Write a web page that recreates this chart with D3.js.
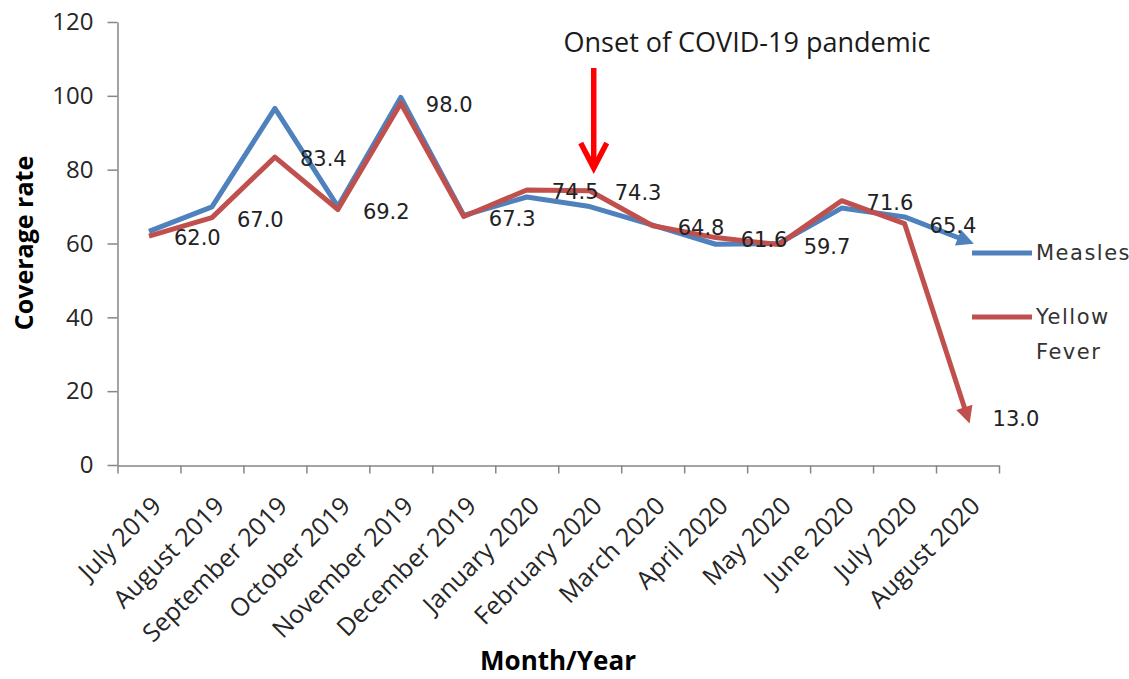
<!DOCTYPE html>
<html>
<head>
<meta charset="utf-8">
<script src="https://cdn.jsdelivr.net/npm/d3@7"></script>
<style>
  body { margin: 0; background: #fff; }
  svg { display: block; overflow: visible; }
  .axis path, .axis line { stroke: #868686; stroke-width: 1.5; }
  .axis text { font-family: "Open Sans", sans-serif; fill: #262626; }
  .dlabel { font-family: "DejaVu Sans", sans-serif; font-size: 21px; fill: #222; }
</style>
</head>
<body>
<svg width="1129" height="679"></svg>
<script>
var months = ["July 2019", "August 2019", "September 2019", "October 2019", "November 2019",
              "December 2019", "January 2020", "February 2020", "March 2020", "April 2020",
              "May 2020", "June 2020", "July 2020", "August 2020"];
var measles     = [63.3, 69.9, 96.6, 70.0, 99.6, 67.6, 72.6, 70.0, 65.0, 59.8, 60.0, 69.6, 67.2, 60.6];
var yellowFever = [62.0, 67.0, 83.4, 69.2, 98.0, 67.3, 74.5, 74.3, 64.8, 61.6, 59.7, 71.6, 65.4, 13.0];
var yTicks = [0, 20, 40, 60, 80, 100, 120];
var onsetMonth = "February 2020";

var svg = d3.select("svg");

var x = d3.scaleBand()
  .domain(months)
  .range([117.5, 999])
  .padding(0);

// boundary ticks, excel style (between categories)
var xi = d3.scaleLinear()
  .domain([0, months.length])
  .range(x.range());

var y = d3.scaleLinear()
  .domain([0, 120])
  .range([465, 22]);

var cx = function(i) { return x(months[i]) + x.bandwidth() / 2; };

// y axis
var gy = svg.append("g")
  .attr("class", "axis")
  .attr("transform", "translate(117.5,0)")
  .call(d3.axisLeft(y).tickValues(yTicks).tickSize(10).tickPadding(14).tickSizeOuter(0));
gy.selectAll("text").attr("font-size", 24);

// x axis line + ticks
svg.append("g")
  .attr("class", "axis")
  .attr("transform", "translate(0,465.5)")
  .call(d3.axisBottom(xi).tickValues(d3.range(months.length + 1)).tickSize(8).tickSizeOuter(0).tickFormat(""));

// x labels
var gx = svg.append("g")
  .attr("class", "axis")
  .attr("transform", "translate(0,465.5)")
  .call(d3.axisBottom(x).tickSize(0).tickSizeOuter(0));
gx.select(".domain").remove();
gx.selectAll("text")
  .attr("font-size", 25)
  .attr("text-anchor", "end")
  .attr("dy", null)
  .attr("y", null)
  .attr("transform", "translate(14,42) rotate(-45)");

// axis titles
svg.append("text")
  .attr("transform", "translate(33,243) rotate(-90)")
  .attr("text-anchor", "middle")
  .attr("font-family", "Open Sans, sans-serif")
  .attr("font-weight", "bold")
  .attr("font-size", 25)
  .attr("fill", "#000")
  .text("Coverage rate");

svg.append("text")
  .attr("x", 558)
  .attr("y", 670)
  .attr("text-anchor", "middle")
  .attr("font-family", "Open Sans, sans-serif")
  .attr("font-weight", "bold")
  .attr("font-size", 26)
  .attr("fill", "#000")
  .text("Month/Year");

// arrow markers for line ends
var defs = svg.append("defs");
[["arrowBlue", "#4F81BD"], ["arrowRed", "#C0504D"]].forEach(function(m) {
  defs.append("marker")
    .attr("id", m[0])
    .attr("viewBox", "0 0 10 10")
    .attr("refX", 6)
    .attr("refY", 5)
    .attr("markerWidth", 19)
    .attr("markerHeight", 17)
    .attr("markerUnits", "userSpaceOnUse")
    .attr("orient", "auto")
    .append("path")
      .attr("d", "M0,0 L10,5 L0,10 z")
      .attr("fill", m[1]);
});

var line = d3.line()
  .x(function(d, i) { return cx(i); })
  .y(function(d) { return y(d); });

svg.append("path")
  .datum(measles)
  .attr("d", line)
  .attr("fill", "none")
  .attr("stroke", "#4F81BD")
  .attr("stroke-width", 5)
  .attr("stroke-linejoin", "round")
  .attr("marker-end", "url(#arrowBlue)");

svg.append("path")
  .datum(yellowFever)
  .attr("d", line)
  .attr("fill", "none")
  .attr("stroke", "#C0504D")
  .attr("stroke-width", 5)
  .attr("stroke-linejoin", "round")
  .attr("marker-end", "url(#arrowRed)");

// data labels (yellow fever), placed right of the point
svg.selectAll(".dlabel")
  .data(yellowFever)
  .enter().append("text")
    .attr("class", "dlabel")
    .attr("x", function(d, i) { return cx(i) + 25; })
    .attr("y", function(d) { return y(d) + 2; })
    .attr("dominant-baseline", "central")
    .text(function(d) { return d.toFixed(1); });

// onset annotation
var ax = cx(months.indexOf(onsetMonth)) + 4;
svg.append("line")
  .attr("x1", ax).attr("x2", ax)
  .attr("y1", 68).attr("y2", 167)
  .attr("stroke", "#FF0000")
  .attr("stroke-width", 5.5);
svg.append("path")
  .attr("d", "M" + (ax - 13) + ",143 L" + ax + ",168 L" + (ax + 13) + ",143")
  .attr("fill", "none")
  .attr("stroke", "#FF0000")
  .attr("stroke-width", 5.5)
  .attr("stroke-linejoin", "miter");

svg.append("text")
  .attr("x", 747)
  .attr("y", 52)
  .attr("text-anchor", "middle")
  .attr("font-family", "Open Sans, sans-serif")
  .attr("font-size", 27)
  .attr("fill", "#1a1a1a")
  .text("Onset of COVID-19 pandemic");

// legend
var legend = svg.append("g").attr("transform", "translate(972,0)");
var items = [
  { name: ["Measles"], color: "#4F81BD", y: 253 },
  { name: ["Yellow", "Fever"], color: "#C0504D", y: 317 }
];
items.forEach(function(it) {
  legend.append("line")
    .attr("x1", 0).attr("x2", 60)
    .attr("y1", it.y).attr("y2", it.y)
    .attr("stroke", it.color)
    .attr("stroke-width", 5);
  it.name.forEach(function(t, k) {
    legend.append("text")
      .attr("x", 64)
      .attr("y", it.y + k * 35)
      .attr("dominant-baseline", "central")
      .attr("font-family", "DejaVu Sans, sans-serif")
      .attr("font-size", 21)
      .attr("letter-spacing", 1.5)
      .attr("fill", "#333")
      .text(t);
  });
});
</script>
</body>
</html>
